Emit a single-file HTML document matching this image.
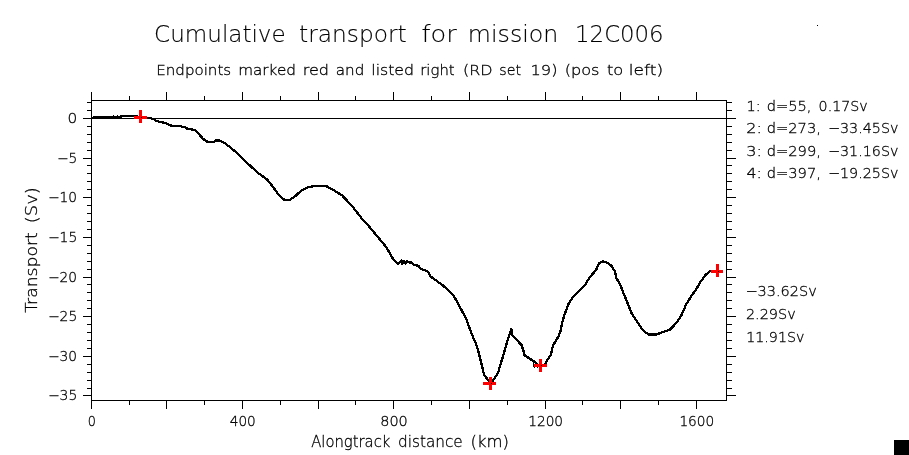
<!DOCTYPE html>
<html lang="en"><head><meta charset="utf-8"><title>Cumulative transport for mission 12C006</title>
<style>
html,body{margin:0;padding:0;background:#fff;}
body{width:909px;height:455px;overflow:hidden;}
svg{display:block;}
.txt{filter:grayscale(1);}
text{font-family:"DejaVu Sans","Liberation Sans",sans-serif;font-weight:200;fill:#000;stroke:#000;stroke-width:0.3px;}
.t1{stroke-width:0.15px;}
.t1{font-size:23.8px;}
.t2{font-size:14.4px;}
.tk{font-size:13.3px;}
.ax{font-size:15.8px;}
</style></head><body>
<svg width="909" height="455" viewBox="0 0 909 455">
<rect x="0" y="0" width="909" height="455" fill="#fff"/>
<path d="M91.5,92V409M726.5,100V401M91,100.5H727M91,400.5H727M83,118.5H736M91.5,92V100M91.5,401V409M129.5,96V100M129.5,401V405M166.5,92V100M166.5,401V409M204.5,96V100M204.5,401V405M242.5,92V100M242.5,401V409M280.5,96V100M280.5,401V405M318.5,92V100M318.5,401V409M355.5,96V100M355.5,401V405M393.5,92V100M393.5,401V409M431.5,96V100M431.5,401V405M469.5,92V100M469.5,401V409M507.5,96V100M507.5,401V405M545.5,92V100M545.5,401V409M582.5,96V100M582.5,401V405M620.5,92V100M620.5,401V409M658.5,96V100M658.5,401V405M696.5,92V100M696.5,401V409M87,102.5H91M727,102.5H732M87,110.5H91M727,110.5H732M83,118.5H91M727,118.5H736M87,126.5H91M727,126.5H732M87,134.5H91M727,134.5H732M87,142.5H91M727,142.5H732M87,150.5H91M727,150.5H732M83,158.5H91M727,158.5H736M87,165.5H91M727,165.5H732M87,173.5H91M727,173.5H732M87,181.5H91M727,181.5H732M87,189.5H91M727,189.5H732M83,197.5H91M727,197.5H736M87,205.5H91M727,205.5H732M87,213.5H91M727,213.5H732M87,221.5H91M727,221.5H732M87,229.5H91M727,229.5H732M83,237.5H91M727,237.5H736M87,245.5H91M727,245.5H732M87,253.5H91M727,253.5H732M87,261.5H91M727,261.5H732M87,269.5H91M727,269.5H732M83,277.5H91M727,277.5H736M87,284.5H91M727,284.5H732M87,292.5H91M727,292.5H732M87,300.5H91M727,300.5H732M87,308.5H91M727,308.5H732M83,316.5H91M727,316.5H736M87,324.5H91M727,324.5H732M87,332.5H91M727,332.5H732M87,340.5H91M727,340.5H732M87,348.5H91M727,348.5H732M83,356.5H91M727,356.5H736M87,364.5H91M727,364.5H732M87,372.5H91M727,372.5H732M87,380.5H91M727,380.5H732M87,388.5H91M727,388.5H732M83,395.5H91M727,395.5H736" stroke="#000" stroke-width="1" fill="none" shape-rendering="crispEdges"/>
<polyline points="91.5,118 95,117 120.5,117 121.5,116 134,116 147,118 151,118.2 153.8,119.2 155.6,120.8 165.2,123 170.5,125.6 178.5,125.9 184.6,127.1 187.3,128.7 190.8,129.2 195.2,130.5 199.6,134.9 203.1,138.9 207.5,141.8 213.7,141.8 215.4,140.6 219.8,140.6 225,143.3 230.5,147.5 235.2,151.5 240,156.3 250,165.6 258,173 267,179.3 273,187 279.5,195.8 284.5,199.9 289.5,199.9 295,196.4 301,190.8 309,187 316,185.7 325.5,185.7 332.5,189.5 342,195.3 349,202.7 353.2,207.4 361.5,218.1 369.7,227.2 378,237.1 386.2,247 392.8,258.5 396.8,262.9 398.5,263.8 400,262 401.5,260.5 402.2,263.8 403.3,262 404.4,261 405.4,263.8 406.5,262 407.4,261 408.5,262.3 411,262.5 414.3,264.8 418.3,265.8 421,269 425,270.4 428.2,272 430.5,276.4 443,285.5 453.6,295.4 459.4,306.1 466,318.5 467.5,322.5 471.4,333.2 477,346.4 481.3,362.9 484.2,375.3 490,382 492.4,381.5 496.4,375.5 498.3,372.3 499.3,368.3 500.3,365 503.5,354.7 507.7,339.8 511.3,329.1 512.4,335.2 516.4,339.6 521.7,345.3 523.5,351 524.6,355.3 528.6,357.9 533.2,360.9 536.5,363.5 538,365 541,365.5 544,365 545.4,363.5 549,357.3 551,355.3 551.6,352 552,348.4 553.4,344.9 558.7,336.1 560.6,330.8 562.2,322.4 564.6,314.4 569,302.8 573.5,296.5 575.8,294.2 585.1,284.9 589.9,277 593,273.5 596.1,270 598.7,263.8 600.5,262.3 603.1,261.2 605.5,262.2 608,262.9 611.9,266.4 615,271.7 616.3,277.9 620.7,285.8 623.4,292.9 626.5,300.5 631.4,312.9 638,323 643,330.3 648.7,334.6 656,334.6 662.7,332.1 670,329.6 676.7,322.6 681.8,314.5 686,304.7 692,295 695.8,289.9 700.8,281.4 705.7,274.8 710.7,270.7 717,271" stroke="#000" stroke-width="2.3" fill="none" stroke-linejoin="round" shape-rendering="crispEdges"/>
<rect x="113" y="115" width="1" height="1" fill="#000" shape-rendering="crispEdges"/>
<rect x="117" y="115" width="1" height="1" fill="#000" shape-rendering="crispEdges"/>
<rect x="533" y="361" width="1" height="6" fill="#000" shape-rendering="crispEdges"/>
<rect x="534" y="367" width="1" height="1" fill="#000" shape-rendering="crispEdges"/>
<rect x="537" y="367" width="1" height="1" fill="#000" shape-rendering="crispEdges"/>
<path d="M134,116h13v3h-13zM139,110h3v13h-3z" fill="#ff0000" shape-rendering="crispEdges"/>
<rect x="141" y="117" width="1" height="1" fill="#000" shape-rendering="crispEdges"/>
<path d="M483,382h13v3h-13zM489,377h3v13h-3z" fill="#ff0000" shape-rendering="crispEdges"/>
<rect x="491" y="383" width="1" height="1" fill="#000" shape-rendering="crispEdges"/>
<path d="M534,364h13v3h-13zM539,359h3v13h-3z" fill="#ff0000" shape-rendering="crispEdges"/>
<rect x="541" y="365" width="1" height="1" fill="#000" shape-rendering="crispEdges"/>
<path d="M711,270h12v3h-12zM716,264h3v13h-3z" fill="#ff0000" shape-rendering="crispEdges"/>
<rect x="718" y="271" width="1" height="1" fill="#000" shape-rendering="crispEdges"/>
<g class="txt">
<text class="t1" transform="translate(154.10,42.20) scale(0.9694,1)">Cumulative</text>
<text class="t1" transform="translate(299.11,42.20) scale(0.9789,1)">transport</text>
<text class="t1" transform="translate(421.50,42.20) scale(1.0764,1)">for</text>
<text class="t1" transform="translate(467.80,42.20) scale(0.9976,1)">mission</text>
<text class="t1" transform="translate(575.10,42.20) scale(0.9594,1)">12C006</text>
<text class="t2" transform="translate(156.25,74.70) scale(1.0472,1)">Endpoints</text>
<text class="t2" transform="translate(238.13,74.70) scale(1.0595,1)">marked</text>
<text class="t2" transform="translate(302.74,74.70) scale(1.1150,1)">red</text>
<text class="t2" transform="translate(335.81,74.70) scale(1.0541,1)">and</text>
<text class="t2" transform="translate(371.28,74.70) scale(1.0919,1)">listed</text>
<text class="t2" transform="translate(420.28,74.70) scale(1.0291,1)">right</text>
<text class="t2" transform="translate(462.95,74.70) scale(1.1107,1)">(RD</text>
<text class="t2" transform="translate(499.31,74.70) scale(0.9885,1)">set</text>
<text class="t2" transform="translate(530.42,74.70) scale(1.1321,1)">19)</text>
<text class="t2" transform="translate(564.74,74.70) scale(1.1186,1)">(pos</text>
<text class="t2" transform="translate(606.94,74.70) scale(1.1287,1)">to</text>
<text class="t2" transform="translate(628.73,74.70) scale(1.1874,1)">left)</text>
<text class="t2" transform="translate(746.41,111.00) scale(1.0084,1)">1:</text>
<text class="t2" transform="translate(766.66,111.00) scale(1.0169,1)">d=55,</text>
<text class="t2" transform="translate(818.59,111.00) scale(0.9868,1)">0.17Sv</text>
<text class="t2" transform="translate(746.19,133.20) scale(1.1174,1)">2:</text>
<text class="t2" transform="translate(766.65,133.20) scale(1.0206,1)">d=273,</text>
<text class="t2" transform="translate(828.06,133.20) scale(0.9923,1)">−33.45Sv</text>
<text class="t2" transform="translate(746.19,155.60) scale(1.1174,1)">3:</text>
<text class="t2" transform="translate(766.65,155.60) scale(1.0206,1)">d=299,</text>
<text class="t2" transform="translate(828.06,155.60) scale(0.9923,1)">−31.16Sv</text>
<text class="t2" transform="translate(746.46,178.00) scale(1.0954,1)">4:</text>
<text class="t2" transform="translate(766.65,178.00) scale(1.0206,1)">d=397,</text>
<text class="t2" transform="translate(828.06,178.00) scale(0.9923,1)">−19.25Sv</text>
<text class="t2" transform="translate(745.44,296.10) scale(1.0068,1)">−33.62Sv</text>
<text class="t2" transform="translate(745.90,318.90) scale(1.0031,1)">2.29Sv</text>
<text class="t2" transform="translate(746.24,341.60) scale(0.9887,1)">11.91Sv</text>
<text class="tk" transform="translate(87.80,426.20) scale(0.9624,1)">0</text>
<text class="tk" transform="translate(229.76,426.20) scale(1.0266,1)">400</text>
<text class="tk" transform="translate(380.25,426.20) scale(1.0850,1)">800</text>
<text class="tk" transform="translate(528.20,426.20) scale(1.0319,1)">1200</text>
<text class="tk" transform="translate(679.40,426.20) scale(1.0319,1)">1600</text>
<text class="ax" transform="translate(311.17,446.60) scale(0.9378,1)">Alongtrack</text>
<text class="ax" transform="translate(398.01,446.60) scale(0.9670,1)">distance</text>
<text class="ax" transform="translate(470.50,446.60) scale(1.0425,1)">(km)</text>
<text class="tk" transform="translate(67.40,123.20) scale(1.1549,1)">0</text>
<text class="tk" transform="translate(57.01,163.20) scale(1.0317,1)">−5</text>
<text class="tk" transform="translate(48.01,202.20) scale(1.0338,1)">−10</text>
<text class="tk" transform="translate(48.00,242.20) scale(1.0423,1)">−15</text>
<text class="tk" transform="translate(48.01,282.20) scale(1.0338,1)">−20</text>
<text class="tk" transform="translate(48.00,321.20) scale(1.0423,1)">−25</text>
<text class="tk" transform="translate(48.01,361.20) scale(1.0338,1)">−30</text>
<text class="tk" transform="translate(48.00,400.20) scale(1.0423,1)">−35</text>
<g transform="translate(36.9,312.6) rotate(-90)">
<text class="ax" transform="translate(-0.27,0.00) scale(1.0876,1)">Transport</text>
<text class="ax" transform="translate(89.44,0.00) scale(1.1331,1)">(Sv)</text>
</g>
</g>
<rect x="894" y="440" width="15" height="15" fill="#000" shape-rendering="crispEdges"/>
<rect x="817" y="25" width="1" height="1" fill="#000" shape-rendering="crispEdges"/>
</svg></body></html>
